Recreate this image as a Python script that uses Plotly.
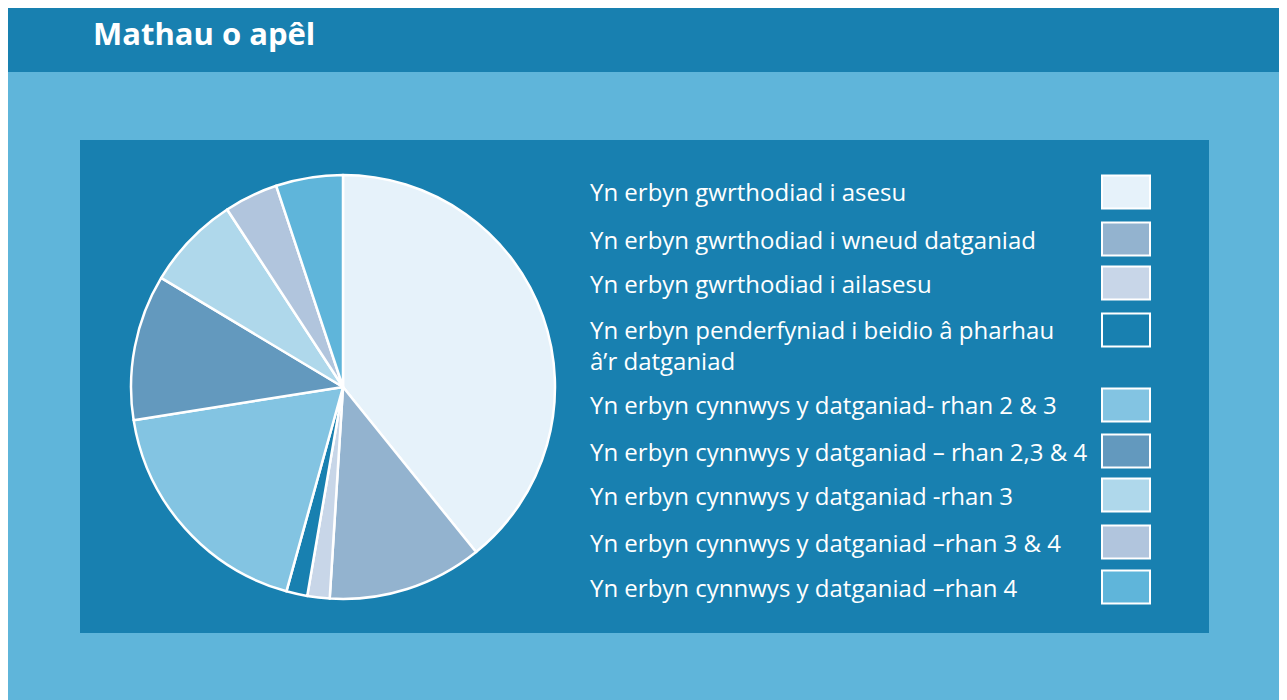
import plotly.graph_objects as go

# page offset from the default 8px body margin
OX, OY = 8, 8
W, H = 1287 - OX, 700 - OY

title_text = "Mathau o apêl"
categories = [
    "Yn erbyn gwrthodiad i asesu",
    "Yn erbyn gwrthodiad i wneud datganiad",
    "Yn erbyn gwrthodiad i ailasesu",
    "Yn erbyn penderfyniad i beidio â pharhau<br>â’r datganiad",
    "Yn erbyn cynnwys y datganiad- rhan 2 & 3",
    "Yn erbyn cynnwys y datganiad – rhan 2,3 & 4",
    "Yn erbyn cynnwys y datganiad -rhan 3",
    "Yn erbyn cynnwys y datganiad –rhan 3 & 4",
    "Yn erbyn cynnwys y datganiad –rhan 4",
]
values = [39.2, 11.8, 1.7, 1.6, 18.2, 11.1, 7.2, 4.1, 5.1]
colors = ["#E6F2FA", "#93B3CF", "#C8D6E8", "#1880B0", "#83C4E2",
          "#6399BE", "#AFD8EB", "#B1C5DD", "#5FB5DA"]

DARK = "#1880B0"
LIGHT = "#5FB5DA"
FONT = "Open Sans"


def px(x):
    return max(0.0, (x - OX) / W)


def py(y):
    return min(1.0, 1 - (y - OY) / H)


fig = go.Figure()
fig.add_trace(go.Pie(
    labels=[c.replace("<br>", " ") for c in categories],
    values=values,
    marker=dict(colors=colors, line=dict(color="white", width=2.5)),
    sort=False,
    direction="clockwise",
    rotation=0,
    textinfo="none",
    hoverinfo="label+percent",
    showlegend=False,
    domain=dict(x=[px(131), px(555)], y=[py(599), py(175)]),
))

shapes = [
    dict(type="rect", xref="paper", yref="paper", x0=0, x1=1, y0=0, y1=1,
         fillcolor=LIGHT, line=dict(width=0), layer="below"),
    dict(type="rect", xref="paper", yref="paper", x0=0, x1=1, y0=py(72), y1=1,
         fillcolor=DARK, line=dict(width=0), layer="below"),
    dict(type="rect", xref="paper", yref="paper", x0=px(80), x1=px(1209), y0=py(633), y1=py(140),
         fillcolor=DARK, line=dict(width=0), layer="below"),
]

annotations = [
    dict(text="<b>" + title_text + "</b>", xref="paper", yref="paper",
         x=px(91), y=py(33), xanchor="left", yanchor="middle", showarrow=False,
         font=dict(family=FONT, size=31, color="white")),
]

swatch_centers = [192, 239, 283, 330, 405, 451, 495, 542, 587]
line_gap = 30
for cat, col, yc in zip(categories, colors, swatch_centers):
    nl = cat.count("<br>") + 1
    shapes.append(dict(type="rect", xref="paper", yref="paper",
                       x0=px(1102), x1=px(1150), y0=py(yc + 16.5), y1=py(yc - 16.5),
                       fillcolor=col, line=dict(color="white", width=2)))
    annotations.append(dict(text=cat, xref="paper", yref="paper",
                            x=px(588), y=py(yc + (nl - 1) * line_gap / 2),
                            xanchor="left", yanchor="middle",
                            align="left", showarrow=False,
                            font=dict(family=FONT, size=24, color="white")))

fig.update_layout(
    width=W, height=H,
    margin=dict(l=0, r=0, t=0, b=0),
    paper_bgcolor=LIGHT,
    plot_bgcolor=LIGHT,
    shapes=shapes,
    annotations=annotations,
)

fig.write_html("out.html")
